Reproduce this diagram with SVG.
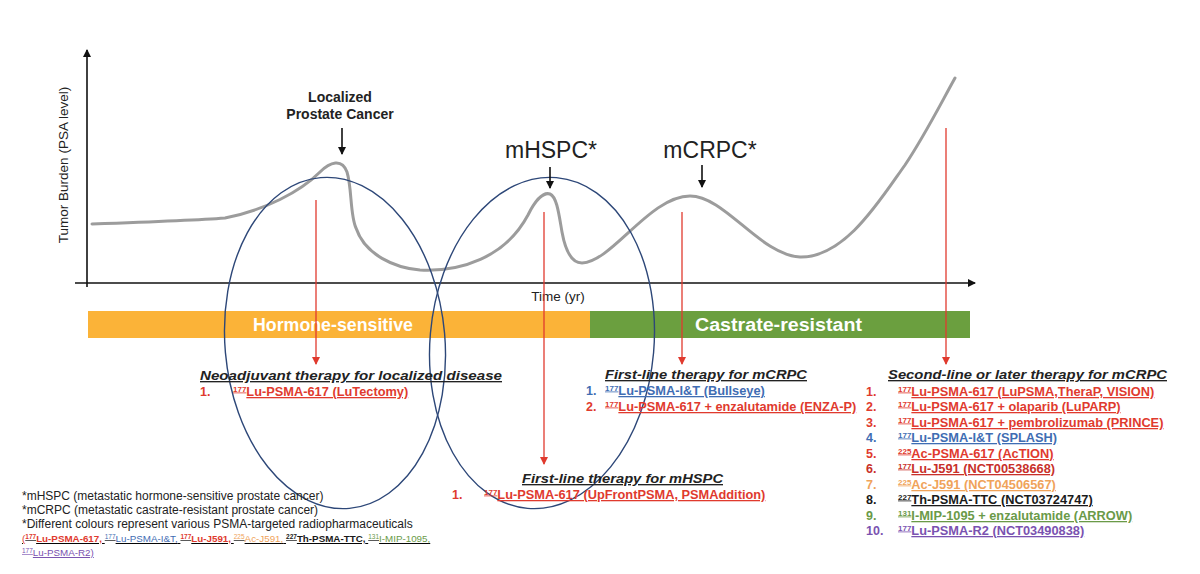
<svg xmlns="http://www.w3.org/2000/svg" width="1200" height="574" viewBox="0 0 1200 574">
<defs>
<marker id="ab" markerWidth="8" markerHeight="8" refX="7" refY="4" orient="auto" markerUnits="userSpaceOnUse"><path d="M0,0 L8,4 L0,8 z" fill="#111"/></marker>
<marker id="ar" markerWidth="8" markerHeight="8" refX="7" refY="4" orient="auto" markerUnits="userSpaceOnUse"><path d="M0,0 L8,4 L0,8 z" fill="#e03a2e"/></marker>
<style>
text{font-family:"Liberation Sans",Arial,sans-serif}
.h{font-size:13.5px;font-weight:bold;font-style:italic;fill:#222;text-decoration:underline}
.it{font-size:12.8px;font-weight:bold;text-decoration:underline}
.n{font-size:12.5px;font-weight:bold}
.r{fill:#e03a2e}.b{fill:#3f6db3}.o{fill:#f0a35a}.k{fill:#1a1a1a}.g{fill:#6a9a48}.p{fill:#7a52b0}.dr{fill:#c8302a}
.lg{font-size:12px;fill:#222}
.ax{stroke:#111;stroke-width:1.6;fill:none}
.ell{fill:none;stroke:#2d4778;stroke-width:1.4}
.ra{stroke:#e03a2e;stroke-width:1.3;fill:none}
.ba{stroke:#111;stroke-width:1.6;fill:none}
</style>
</defs>
<rect width="1200" height="574" fill="#fff"/>

<g id="axes">
<line class="ax" x1="87" y1="287" x2="87" y2="50" marker-end="url(#ab)"/>
<line class="ax" x1="75" y1="283" x2="975" y2="283" marker-end="url(#ab)"/>
<text x="68" y="165" font-size="13.5" fill="#222" text-anchor="middle" transform="rotate(-90 68 165)">Tumor Burden (PSA level)</text>
<text x="558" y="301" font-size="13.5" fill="#222" text-anchor="middle">Time (yr)</text>
</g>

<g id="curve">
<path d="M92,224 C150,222 200,220 225,218 C265,210 300,192 320,172 C330,162 342,158 347,172 C352,188 350,215 356,228 C365,255 395,268 420,270 C460,272 505,258 528,215 C536,199 544,192 550,194 C557,197 559,215 562,232 C566,254 573,263 582,263 C612,262 650,196 690,196 C725,196 760,255 800,257 C845,258 880,200 905,165 C925,135 940,105 955,78" fill="none" stroke="#9c9c9c" stroke-width="3" stroke-linecap="round"/>
</g>

<g id="bar">
<rect x="88" y="311" width="502" height="27" fill="#fbb338"/>
<rect x="590" y="311" width="380" height="27" fill="#6b9f3f"/>
<text x="253" y="331" font-size="17.5" font-weight="bold" fill="#fff" textLength="160" lengthAdjust="spacingAndGlyphs">Hormone-sensitive</text>
<text x="695" y="331" font-size="17.5" font-weight="bold" fill="#fff" textLength="167" lengthAdjust="spacingAndGlyphs">Castrate-resistant</text>
</g>

<g id="ellipse-localized"><ellipse class="ell" cx="335" cy="343" rx="110" ry="166" transform="rotate(-5 335 343)"/></g>
<g id="ellipse-mhspc"><ellipse class="ell" cx="542" cy="343" rx="112" ry="166" transform="rotate(5 542 343)"/></g>

<g id="label-localized">
<text x="340" y="102" font-size="14" font-weight="bold" fill="#222" text-anchor="middle">Localized</text>
<text x="340" y="119" font-size="14" font-weight="bold" fill="#222" text-anchor="middle">Prostate Cancer</text>
</g>
<g id="label-mhspc"><text x="551" y="158" font-size="23" fill="#222" text-anchor="middle">mHSPC*</text></g>
<g id="label-mcrpc"><text x="710" y="158" font-size="23" fill="#222" text-anchor="middle">mCRPC*</text></g>

<g id="connectors">
<line class="ba" x1="342" y1="128" x2="342" y2="154" marker-end="url(#ab)"/>
<line class="ba" x1="550" y1="167" x2="550" y2="188" marker-end="url(#ab)"/>
<line class="ba" x1="702" y1="165" x2="702" y2="187" marker-end="url(#ab)"/>
<line class="ra" x1="316" y1="200" x2="316" y2="364" marker-end="url(#ar)"/>
<line class="ra" x1="544" y1="212" x2="544" y2="464" marker-end="url(#ar)"/>
<line class="ra" x1="682" y1="212" x2="682" y2="364" marker-end="url(#ar)"/>
<line class="ra" x1="946" y1="128" x2="946" y2="364" marker-end="url(#ar)"/>
</g>

<g id="neoadjuvant">
<text class="h" x="200" y="380" textLength="302" lengthAdjust="spacingAndGlyphs">Neoadjuvant therapy for localized disease</text>
<text class="n r" x="200" y="396">1.</text>
<text class="it r" x="233" y="396"><tspan font-size="8" dy="-4.5">177</tspan><tspan dy="4.5">Lu-PSMA-617 (LuTectomy)</tspan></text>
</g>

<g id="first-line-mcrpc">
<text class="h" x="605" y="379" textLength="202" lengthAdjust="spacingAndGlyphs">First-line therapy for mCRPC</text>
<text class="n b" x="586" y="395">1.</text>
<text class="it b" x="605" y="395"><tspan font-size="8" dy="-4.5">177</tspan><tspan dy="4.5">Lu-PSMA-I&amp;T (Bullseye)</tspan></text>
<text class="n r" x="586" y="411">2.</text>
<text class="it r" x="605" y="411"><tspan font-size="8" dy="-4.5">177</tspan><tspan dy="4.5">Lu-PSMA-617 + enzalutamide (ENZA-P)</tspan></text>
</g>

<g id="first-line-mhspc">
<text class="h" x="522" y="483" textLength="201" lengthAdjust="spacingAndGlyphs">First-line therapy for mHSPC</text>
<text class="n r" x="452" y="499">1.</text>
<text class="it r" x="484" y="499"><tspan font-size="8" dy="-4.5">177</tspan><tspan dy="4.5">Lu-PSMA-617 (UpFrontPSMA, PSMAddition)</tspan></text>
</g>

<g id="second-line-mcrpc">
<text class="h" x="888" y="379" textLength="279" lengthAdjust="spacingAndGlyphs">Second-line or later therapy for mCRPC</text>
<text class="n r" x="866" y="396">1.</text>
<text class="it r" x="898" y="396"><tspan font-size="8" dy="-4.5">177</tspan><tspan dy="4.5">Lu-PSMA-617 (LuPSMA,TheraP, VISION)</tspan></text>
<text class="n r" x="866" y="411">2.</text>
<text class="it r" x="898" y="411"><tspan font-size="8" dy="-4.5">177</tspan><tspan dy="4.5">Lu-PSMA-617 + olaparib (LuPARP)</tspan></text>
<text class="n r" x="866" y="427">3.</text>
<text class="it r" x="898" y="427"><tspan font-size="8" dy="-4.5">177</tspan><tspan dy="4.5">Lu-PSMA-617 + pembrolizumab (PRINCE)</tspan></text>
<text class="n b" x="866" y="442">4.</text>
<text class="it b" x="898" y="442"><tspan font-size="8" dy="-4.5">177</tspan><tspan dy="4.5">Lu-PSMA-I&amp;T (SPLASH)</tspan></text>
<text class="n r" x="866" y="458">5.</text>
<text class="it r" x="898" y="458"><tspan font-size="8" dy="-4.5">225</tspan><tspan dy="4.5">Ac-PSMA-617 (AcTION)</tspan></text>
<text class="n dr" x="866" y="473">6.</text>
<text class="it dr" x="898" y="473"><tspan font-size="8" dy="-4.5">177</tspan><tspan dy="4.5">Lu-J591 (NCT00538668)</tspan></text>
<text class="n o" x="866" y="489">7.</text>
<text class="it o" x="898" y="489"><tspan font-size="8" dy="-4.5">225</tspan><tspan dy="4.5">Ac-J591 (NCT04506567)</tspan></text>
<text class="n k" x="866" y="504">8.</text>
<text class="it k" x="898" y="504"><tspan font-size="8" dy="-4.5">227</tspan><tspan dy="4.5">Th-PSMA-TTC (NCT03724747)</tspan></text>
<text class="n g" x="866" y="520">9.</text>
<text class="it g" x="898" y="520"><tspan font-size="8" dy="-4.5">131</tspan><tspan dy="4.5">I-MIP-1095 + enzalutamide (ARROW)</tspan></text>
<text class="n p" x="866" y="535">10.</text>
<text class="it p" x="898" y="535"><tspan font-size="8" dy="-4.5">177</tspan><tspan dy="4.5">Lu-PSMA-R2 (NCT03490838)</tspan></text>
</g>

<g id="legend">
<text class="lg" x="22" y="500">*mHSPC (metastatic hormone-sensitive prostate cancer)</text>
<text class="lg" x="22" y="514">*mCRPC (metastatic castrate-resistant prostate cancer)</text>
<text class="lg" x="22" y="528">*Different colours represent various PSMA-targeted radiopharmaceuticals</text>
<text x="22" y="542" font-size="9.8" text-decoration="underline"><tspan class="r">(</tspan><tspan class="r" font-weight="bold"><tspan font-size="6.5" dy="-3">177</tspan><tspan dy="3">Lu-PSMA-617,</tspan></tspan><tspan class="b"> <tspan font-size="6.5" dy="-3">177</tspan><tspan dy="3">Lu-PSMA-I&amp;T,</tspan></tspan><tspan class="r" font-weight="bold"> <tspan font-size="6.5" dy="-3">177</tspan><tspan dy="3">Lu-J591,</tspan></tspan><tspan class="o"> <tspan font-size="6.5" dy="-3">225</tspan><tspan dy="3">Ac-J591,</tspan></tspan><tspan class="k" font-weight="bold"> <tspan font-size="6.5" dy="-3">227</tspan><tspan dy="3">Th-PSMA-TTC,</tspan></tspan><tspan class="g"> <tspan font-size="6.5" dy="-3">131</tspan><tspan dy="3">I-MIP-1095,</tspan></tspan></text>
<text x="22" y="556" font-size="9.8" text-decoration="underline" class="p"><tspan font-size="6.5" dy="-3">177</tspan><tspan dy="3">Lu-PSMA-R2)</tspan></text>
</g>
</svg>
